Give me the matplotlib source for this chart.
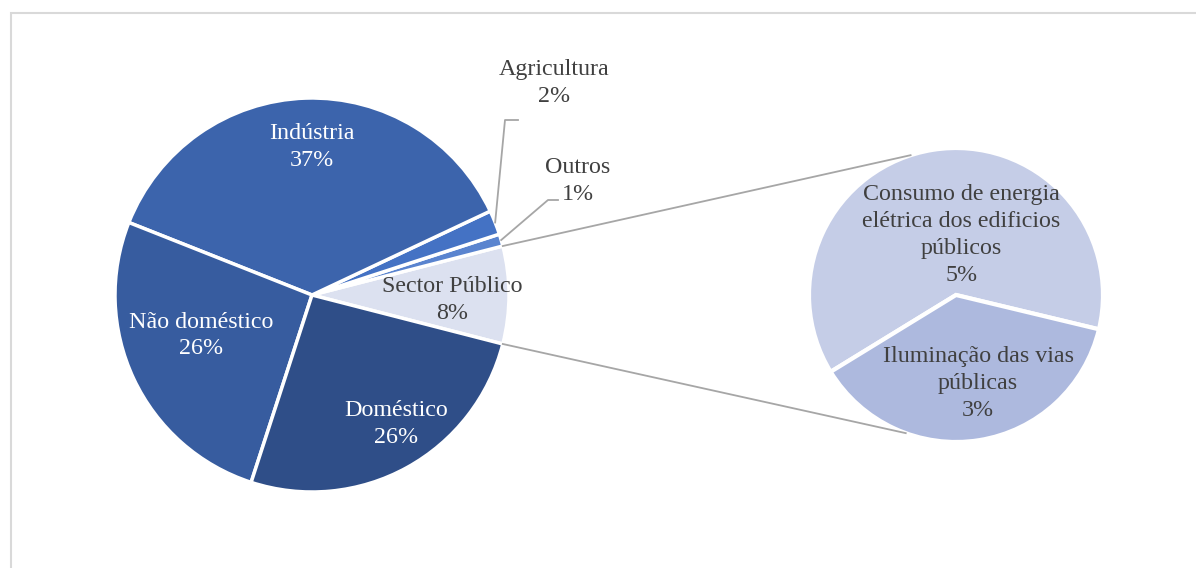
import numpy as np
import matplotlib.pyplot as plt
from matplotlib.patches import Rectangle

plt.rcParams['font.family'] = ['Liberation Serif', 'DejaVu Serif']

# Dados - pizza principal (sentido anti-horario a partir do Sector Publico)
main_labels = ['Sector Público', 'Outros', 'Agricultura', 'Indústria', 'Não doméstico', 'Doméstico']
main_values = [8, 1, 2, 37, 26, 26]
main_colors = ['#DCE1F0', '#5A84CF', '#4472C4', '#3C64AC', '#375C9F', '#2F4E88']

# Dados - pizza secundaria (detalhe do Sector Publico)
sub_labels = ['Consumo de energia\nelétrica dos edificios\npúblicos', 'Iluminação das vias\npúblicas']
sub_values = [5, 3]
sub_colors = ['#C5CDE7', '#ADB9DE']

W, H = 1196, 568
fig = plt.figure(figsize=(W / 100, H / 100), dpi=100)
ax = fig.add_axes([0, 0, 1, 1])

c1, r1 = (312, 273), 197
c2, r2 = (956, 273), 147

start1 = -main_values[0] / sum(main_values) * 360 / 2
ax.pie(main_values, colors=main_colors, startangle=start1, counterclock=True,
       center=c1, radius=r1, frame=True,
       wedgeprops=dict(edgecolor='white', linewidth=2.5))

start2 = -13.5
ax.pie(sub_values, colors=sub_colors, startangle=start2, counterclock=True,
       center=c2, radius=r2, frame=True,
       wedgeprops=dict(edgecolor='white', linewidth=3))
ax.set_xlim(0, W)
ax.set_ylim(0, H)
ax.set_aspect('equal')
ax.axis('off')

def pol(c, r, ang, f):
    a = np.deg2rad(ang)
    return c[0] + r * f * np.cos(a), c[1] + r * f * np.sin(a)

txt = '#404040'
fs = 17.3
ls = 1.36
# rotulos dentro da pizza principal (angulo, fracao do raio)
inner = {'Indústria': (90, 0.75, 'white'),
         'Não doméstico': (200, 0.60, 'white'),
         'Doméstico': (303, 0.78, 'white'),
         'Sector Público': (-2, 0.71, txt)}
for lab, v in zip(main_labels, main_values):
    if lab in inner:
        ang, f, col = inner[lab]
        x, y = pol(c1, r1, ang, f)
        ax.text(x, y, f'{lab}\n{v}%', ha='center', va='center', color=col,
                fontsize=fs, linespacing=ls)

# rotulos externos com linhas de chamada
outer = {'Agricultura': (21.6, (505, 448), (518, 448), (554, 485)),
         'Outros': (16.2, (548, 368), (558, 368), (578, 387))}
for lab, v in zip(main_labels, main_values):
    if lab in outer:
        ang, p1, p2, tp = outer[lab]
        x0, y0 = pol(c1, r1, ang, 1.0)
        ax.plot([x0, p1[0], p2[0]], [y0, p1[1], p2[1]], color='#A6A6A6', lw=1.3)
        ax.text(tp[0], tp[1], f'{lab}\n{v}%', ha='center', va='center', color=txt,
                fontsize=fs, linespacing=ls)

# rotulos da pizza secundaria
sub_pos = [(85, 0.41), (-76, 0.62)]
for lab, v, (ang, f) in zip(sub_labels, sub_values, sub_pos):
    x, y = pol(c2, r2, ang, f)
    ax.text(x, y, f'{lab}\n{v}%', ha='center', va='center', color=txt,
            fontsize=fs, linespacing=ls)

# linhas de ligacao entre as pizzas
half = main_values[0] / sum(main_values) * 360 / 2
for a1, a2 in [(half, 108), (-half, 250)]:
    xa, ya = pol(c1, r1, a1, 1.0)
    xb, yb = pol(c2, r2, a2, 1.0)
    ax.plot([xa, xb], [ya, yb], color='#A6A6A6', lw=1.3)

# moldura
ax.add_patch(Rectangle((10.5, -20), W, H - 12.5 + 20, fill=False,
                       edgecolor='#D9D9D9', lw=1.5, clip_on=False))

fig.savefig('out.png', dpi=100, facecolor='white')
